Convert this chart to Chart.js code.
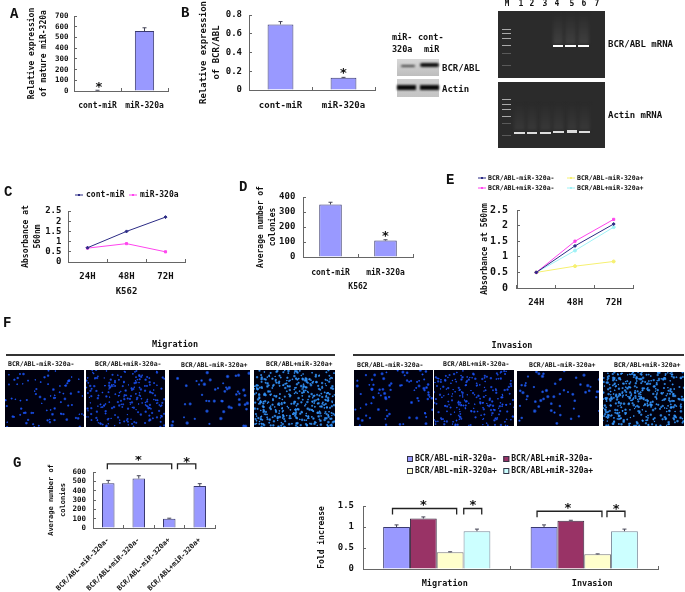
<!DOCTYPE html>
<html><head><meta charset="utf-8">
<script src="https://cdn.jsdelivr.net/npm/chart.js@4"></script>
<style>
html,body{margin:0;padding:0;background:#fff}
#page{position:relative;width:685px;height:592px;overflow:hidden;background:#fff;filter:blur(.35px)}
canvas{position:absolute}
.t{position:absolute;white-space:pre;color:#111;font-family:"DejaVu Sans Mono",monospace;font-weight:bold;line-height:1;transform:translateY(-50%);will-change:transform}
.r{position:absolute}
</style></head><body><div id="page"></div>
<script>
// ---- data ----
const twoCats = ['cont-miR','miR-320a'];
const hours = ['24H','48H','72H'];
const groupsFour = ['BCR/ABL-miR-320a-','BCR/ABL+miR-320a-','BCR/ABL-miR-320a+','BCR/ABL+miR-320a+'];
const phenotypes = ['Migration','Invasion'];

const aValues = [5,560];        const aErrors = [2,30];
const bValues = [0.7,0.13];     const bErrors = [0.03,0.005];
const dValues = [350,110];      const dErrors = [15,5];

const cCont = [0.7,1.5,2.2];
const cMir  = [0.68,0.9,0.5];

const eNavy    = [0.5,1.35,2.05];
const eMagenta = [0.5,1.5,2.2];
const eYellow  = [0.5,0.7,0.85];
const eCyan    = [0.5,1.2,1.95];

const gValues = [480,530,100,450]; const gErrors = [30,30,5,25];

const hPurple = [1,1];      const hPurpleErr = [0.05,0.05];
const hMaroon = [1.2,1.15]; const hMaroonErr = [0.04,0.01];
const hYellow = [0.4,0.35]; const hYellowErr = [0.01,0.01];
const hCyan   = [0.9,0.9];  const hCyanErr   = [0.05,0.05];

// ---- helpers ----
const page = document.getElementById('page');
const MONO = '"DejaVu Sans Mono", monospace';
const INK = '#111';
Chart.defaults.font.family = MONO;
Chart.defaults.font.weight = 'bold';
Chart.defaults.color = INK;

function T(s,x,y,size,opts){
  opts = opts||{};
  const d=document.createElement('div');d.className='t';d.textContent=s;
  d.style.left=x+'px';d.style.top=y+'px';d.style.fontSize=size+'px';
  if(opts.center)d.style.transform='translate(-50%,-50%)';
  if(opts.font)d.style.fontFamily=opts.font;
  page.appendChild(d);
}
function R(x,y,w,h,bg,extra){
  const d=document.createElement('div');d.className='r';
  d.style.cssText+=`left:${x}px;top:${y}px;width:${w}px;height:${h}px;background:${bg};`+(extra||'');
  page.appendChild(d);return d;
}

const marksPlugin = {
  id:'marks',
  afterDatasetsDraw(chart,args,o){
    const ctx=chart.ctx, xs=chart.scales.x, ys=chart.scales.y;
    ctx.save();
    chart.data.datasets.forEach((ds,i)=>{
      if(!ds.errors)return;
      chart.getDatasetMeta(i).data.forEach((el,j)=>{
        const top=ys.getPixelForValue(ds.data[j]), up=ys.getPixelForValue(ds.data[j]+ds.errors[j]);
        ctx.strokeStyle='#445';ctx.lineWidth=1;
        ctx.beginPath();ctx.moveTo(el.x,top);ctx.lineTo(el.x,up);
        ctx.moveTo(el.x-2,up);ctx.lineTo(el.x+2,up);ctx.stroke();
      });
    });
    (o.brackets||[]).forEach(b=>{
      const a=xs.getPixelForValue(b[0]),c=xs.getPixelForValue(b[1]),y=ys.getPixelForValue(b[2]),d=ys.getPixelForValue(b[3]);
      ctx.strokeStyle='#222';ctx.lineWidth=1.3;
      ctx.beginPath();ctx.moveTo(a,d);ctx.lineTo(a,y);ctx.lineTo(c,y);ctx.lineTo(c,d);ctx.stroke();
    });
    (o.stars||[]).forEach(s=>{
      ctx.fillStyle=INK;ctx.font='bold 13px '+MONO;ctx.textAlign='center';ctx.textBaseline='middle';
      ctx.fillText('*',xs.getPixelForValue(s[0]),ys.getPixelForValue(s[1])+2);
    });
    if(o.legend){
      const L=o.legend, ox=chart.canvas.offsetLeft, oy=chart.canvas.offsetTop;
      ctx.textAlign='left';ctx.textBaseline='middle';ctx.font='bold '+L.size+'px '+MONO;
      chart.data.datasets.forEach((ds,i)=>{
        const pos=L.order[i], x=L.x+L.dx*pos[0]-ox, y=L.y+L.dy*pos[1]-oy;
        if(L.kind==='box'){
          ctx.fillStyle=ds.backgroundColor;ctx.strokeStyle='#334';ctx.lineWidth=1;
          ctx.fillRect(x,y-3,6,6);ctx.strokeRect(x+.5,y-2.5,5,5);
        }else{
          ctx.strokeStyle=ds.borderColor;ctx.lineWidth=1;
          ctx.beginPath();ctx.moveTo(x,y);ctx.lineTo(x+8,y);ctx.stroke();
          ctx.fillStyle=ds.borderColor;ctx.fillRect(x+3,y-1,2,2);
        }
        ctx.fillStyle=INK;ctx.fillText(ds.label,x+L.gap,y);
      });
    }
    ctx.restore();
  }
};
Chart.register(marksPlugin);

function panel(p){
  const cx=p.x0-p.l, cy=p.top-p.t, w=p.l+(p.x1-p.x0)+p.r, h=p.t+(p.y0-p.top)+p.b;
  const c=document.createElement('canvas');
  c.width=w;c.height=h;c.style.left=cx+'px';c.style.top=cy+'px';c.style.width=w+'px';c.style.height=h+'px';
  page.appendChild(c);
  const grid={drawOnChartArea:false,color:'#666',tickLength:-3,lineWidth:1,offset:true};
  new Chart(c,{
    type:p.type,
    data:{labels:p.labels,datasets:p.datasets},
    options:{
      responsive:false,animation:false,devicePixelRatio:1,
      layout:{padding:{top:p.t,right:p.r,left:0,bottom:0}},
      plugins:{legend:{display:false},tooltip:{enabled:false},marks:p.marks||{}},
      scales:{
        x:{type:'category',offset:true,grid,border:{color:'#666'},
          afterFit(s){s.height=p.b;s.paddingLeft=0;s.paddingRight=0;},
          ticks:{autoSkip:false,minRotation:p.rot||0,maxRotation:p.rot||0,padding:p.xPad,labelOffset:p.labelOffset||0,font:{size:p.xSize},color:INK},
          title:p.xTitle?{display:true,text:p.xTitle,font:{size:p.xSize,lineHeight:'9px'},padding:0,color:INK}:{display:false}
        },
        y:{min:0,max:p.max,grid:{drawOnChartArea:false,color:'#666',tickLength:-3,lineWidth:1},border:{color:'#666'},
          afterFit(s){s.width=p.l;s.paddingTop=0;s.paddingBottom=0;},
          ticks:{autoSkip:false,stepSize:p.step,padding:p.yPad,font:{size:p.ySize},color:INK,callback:v=>String(v)},
          title:{display:true,text:p.yTitle,font:{size:p.titleSize,lineHeight:p.titleLine},padding:{top:p.titlePad||0,bottom:0},color:INK}
        }
      }
    }
  });
}
function barDs(values,errors){
  return [{label:'series',data:values,errors,backgroundColor:'#9999ff',borderColor:'#3a3a70',borderWidth:1,barPercentage:1,categoryPercentage:0.41}];
}
function lineDs(label,data,color,style){
  return {label,data,borderColor:color,backgroundColor:color,borderWidth:1,pointRadius:1.5,pointStyle:style,tension:0};
}

// ---- A ----
panel({type:'bar',labels:twoCats,datasets:barDs(aValues,aErrors),x0:74,x1:168,top:16,y0:91,l:48,t:12,r:4,b:22,max:700,step:100,
  xPad:13,yPad:8.5,xSize:8,ySize:7.5,titleSize:8,titleLine:'12px',yTitle:['Relative expression','of mature miR-320a'],
  marks:{stars:[[0.03,53]]}});
// ---- B ----
panel({type:'bar',labels:twoCats,datasets:barDs(bValues,bErrors),x0:249,x1:375,top:15,y0:90,l:52,t:15,r:4,b:24,max:0.8,step:0.2,
  xPad:13.5,yPad:10,xSize:9,ySize:9,titleSize:9,titleLine:'13px',yTitle:['Relative expression','of BCR/ABL'],
  marks:{stars:[[1,0.198]]}});
// ---- C ----
panel({type:'line',labels:hours,datasets:[lineDs('cont-miR',cCont,'#2b2b85','rectRot'),lineDs('miR-320a',cMir,'#ff44ee','rect')],
  x0:68,x1:186,top:211,y0:262,l:48,t:24,r:4,b:34,max:2.5,step:0.5,xPad:12.5,yPad:9.6,xSize:9,ySize:9,titleSize:8,titleLine:'12px',
  xTitle:'K562',yTitle:['Absorbance at','560nm'],
  marks:{legend:{kind:'line',x:75,y:195,dx:54,dy:0,gap:11,size:8,order:[[0,0],[1,0]]}}});
// ---- D ----
panel({type:'bar',labels:twoCats,datasets:barDs(dValues,dErrors),x0:303,x1:413,top:197,y0:257,l:48,t:14,r:4,b:34,max:400,step:100,
  xPad:13.7,yPad:10.7,xSize:8,ySize:9,titleSize:8,titleLine:'12px',xTitle:'K562',yTitle:['Average number of','colonies'],
  marks:{stars:[[1,149]]}});
// ---- E ----
panel({type:'line',labels:hours,datasets:[lineDs(groupsFour[0],eNavy,'#2b2b85','rectRot'),lineDs(groupsFour[1],eMagenta,'#ff44ee','rect'),lineDs(groupsFour[2],eYellow,'#f6f070','circle'),lineDs(groupsFour[3],eCyan,'#9ff2f6','circle')],
  x0:517,x1:633,top:210,y0:288,l:42,t:38,r:15,b:20,max:2.5,step:0.5,xPad:12.5,yPad:12,xSize:9,ySize:10,titleSize:8,titleLine:'12px',titlePad:4,yTitle:'Absorbance at 560nm',
  marks:{legend:{kind:'line',x:478,y:178,dx:89,dy:10,gap:10,size:6.5,order:[[0,0],[0,1],[1,0],[1,1]]}}});
// ---- G ----
panel({type:'bar',labels:groupsFour,datasets:barDs(gValues,gErrors),x0:93,x1:215,top:472,y0:528,l:48,t:16,r:4,b:64,max:600,step:100,
  rot:45,xPad:11,yPad:10,xSize:7,ySize:7.5,titleSize:7,titleLine:'12px',yTitle:['Average number of','colonies'],
  marks:{brackets:[[-0.03,2.08,686,629],[2.27,2.87,686,629]],stars:[[0.99,747],[2.57,725]]}});
// ---- H (fold increase) ----
function hBar(label,data,errors,bg,bd){return {label,data,errors,backgroundColor:bg,borderColor:bd,borderWidth:1,barPercentage:1,categoryPercentage:0.727};}
panel({type:'bar',labels:phenotypes,datasets:[
    hBar(groupsFour[0],hPurple,hPurpleErr,'#9999ff','#3a3a70'),
    hBar(groupsFour[1],hMaroon,hMaroonErr,'#993366','#3a2a40'),
    hBar(groupsFour[2],hYellow,hYellowErr,'#ffffcc','#777'),
    hBar(groupsFour[3],hCyan,hCyanErr,'#ccffff','#789')],
  x0:363,x1:658,top:506,y0:569,l:47,t:52,r:4,b:22,max:1.5,step:0.5,labelOffset:8,
  xPad:13,yPad:12,xSize:8.5,ySize:9,titleSize:8,titleLine:'12px',yTitle:'Fold increase',
  marks:{brackets:[[-0.30,0.135,1.44,1.30],[0.183,0.305,1.44,1.30],[0.68,1.12,1.375,1.235],[1.154,1.276,1.375,1.235]],
    stars:[[-0.09,1.547],[0.246,1.547],[0.89,1.493],[1.217,1.47]],
    legend:{kind:'box',x:407,y:459,dx:96.3,dy:12,gap:8,size:8,order:[[0,0],[1,0],[0,1],[1,1]]}}});

// ---- panel letters ----
const letterFont='"Liberation Mono", monospace';
[['A',10,14],['B',181,13],['C',4,192],['D',239,187],['E',446,180],['F',3,323],['G',13,463]]
  .forEach(a=>T(a[0],a[1],a[2],14,{font:letterFont}));

// ---- western blot ----
T('miR-',392,37,8.5);T('320a',392,49,8.5);T('cont-',418,37,8.5);T('miR',424,49,8.5);
R(397,59,42,17,'linear-gradient(#d8d8d8,#bdbdbd)');R(397,79,42,18,'linear-gradient(#cfcfcf,#c4c4c4)');
R(401,64.5,14,2.6,'#444','filter:blur(1px);border-radius:2px');R(420,63,19,4,'#111','filter:blur(1px);border-radius:2px');
R(397,85,19,5,'#0a0a0a','filter:blur(1px)');R(420,85.2,19,4.4,'#0a0a0a','filter:blur(1px)');
T('BCR/ABL',442,68,9);T('Actin',442,89,9);

// ---- gels ----
R(498,11,107,67,'#2b2b2b');R(498,82,107,66,'#2b2b2b');
[['M',507],['1',521],['2',532],['3',545],['4',557],['5',572],['6',584],['7',597]].forEach(a=>T(a[0],a[1],4,8,{center:true}));
[29,33,38,45,53,65].forEach((y,i)=>R(502,y,9,1,i<4?'#aaa':'#5a5a5a','filter:blur(.5px)'));
[99,104,109,116,123,135].forEach((y,i)=>R(502,y,9,1,i<4?'#aaa':'#5a5a5a','filter:blur(.5px)'));
[[553,10],[565,10.5],[578,10.5]].forEach(a=>{
  R(a[0],14,a[1],30,'linear-gradient(#2b2b2b,#3f3f3f)','filter:blur(1.5px)');
  R(a[0],44.5,a[1],2.6,'#fff','filter:blur(.6px)');
});
[[514,131.5],[526.7,131.5],[540,131.5],[553,130.8],[566.7,130.3],[579,130.5]].forEach(a=>{
  R(a[0],104,10.5,26,'linear-gradient(#2b2b2b,#383838)','filter:blur(1.5px)');
  R(a[0],a[1],10.5,2.6,'#ddd','filter:blur(.6px)');
});
T('BCR/ABL mRNA',608,44,9);T('Actin mRNA',608,115,9);

// ---- F: micrographs (a photograph stand-in, not chart data) ----
function hash(n){const v=Math.sin(n*12.9898)*43758.5453;return v-Math.floor(v);}
function field(x,y,w,h,count,seed,rgb,size){
  const c=document.createElement('canvas');
  c.width=w;c.height=h;c.style.left=x+'px';c.style.top=y+'px';page.appendChild(c);
  const g=c.getContext('2d');g.fillStyle='#00000e';g.fillRect(0,0,w,h);
  for(let i=0;i<count;i++){
    const px=hash(seed*1000+i*2+1)*w, py=hash(seed*1000+i*2+2)*h, r=size*(0.75+0.5*hash(seed*1000+i*3+7));
    const gr=g.createRadialGradient(px,py,0,px,py,r);
    gr.addColorStop(0,`rgba(${rgb},1)`);gr.addColorStop(.45,`rgba(${rgb},.7)`);gr.addColorStop(1,`rgba(${rgb},0)`);
    g.fillStyle=gr;g.beginPath();g.arc(px,py,r,0,Math.PI*2);g.fill();
  }
}
T('Migration',175,344,8.5,{center:true});T('Invasion',512,345,8.5,{center:true});
R(6,354,329,1.5,'#333');R(353,354,331,1.5,'#333');
[[groupsFour[0],8,364.3],[groupsFour[1],95,363.7],[groupsFour[2],181,365.3],[groupsFour[3],266,364.3],
 [groupsFour[0],357,364.7],[groupsFour[1],443,364],[groupsFour[2],529,365.3],[groupsFour[3],614,364.7]]
 .forEach(a=>T(a[0],a[1],a[2],6.5));
field(5,370,79,57,85,1,'25,85,255',1.5);
field(86,370,79,57,220,2,'25,80,245',1.4);
field(169,370,81,57,50,3,'30,95,255',1.9);
field(254,370,81,57,420,4,'50,150,255',1.5);
field(354,370,79,56,80,5,'25,85,255',1.7);
field(434,370,80,56,220,6,'25,80,245',1.4);
field(517,371,82,55,55,7,'30,95,255',1.9);
field(603,372,81,54,400,8,'50,150,255',1.5);
</script></body></html>
